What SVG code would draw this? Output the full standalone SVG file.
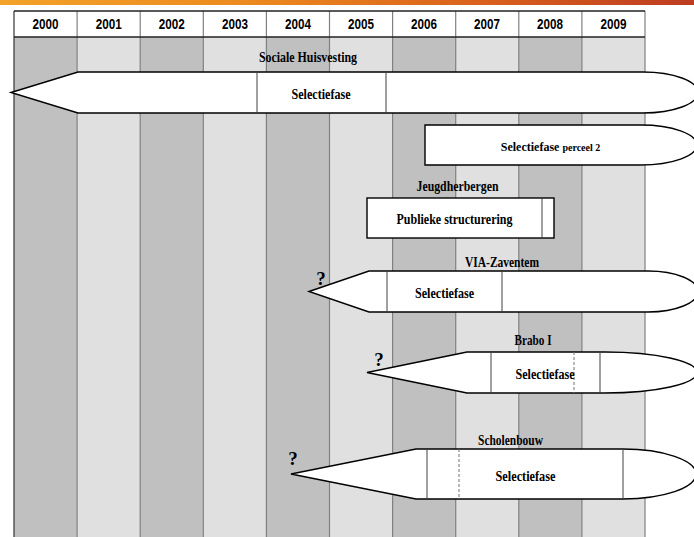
<svg xmlns="http://www.w3.org/2000/svg" width="694" height="537" viewBox="0 0 694 537">
<defs>
<linearGradient id="banner" x1="0" y1="0" x2="1" y2="0">
<stop offset="0" stop-color="#f3a22a"/>
<stop offset="0.35" stop-color="#ec8a1f"/>
<stop offset="0.7" stop-color="#d9601c"/>
<stop offset="1" stop-color="#bd3c22"/>
</linearGradient>
<style>
.dk{fill:#c0c0c0}
.lt{fill:#e0e0e0}
.col{stroke:#808080;stroke-width:1.2}
.yr{font-family:"Liberation Sans Narrow","Liberation Sans",Arial,sans-serif;font-weight:bold;font-size:14.5px;fill:#000;text-anchor:middle}
.lb{font-family:"Liberation Serif","Times New Roman",serif;font-weight:bold;font-size:15.5px;fill:#000;text-anchor:middle}
.q{font-family:"Liberation Serif","Times New Roman",serif;font-weight:bold;font-size:19px;fill:#000;text-anchor:middle}
.shape{fill:#fff;stroke:#000;stroke-width:1.4;stroke-linejoin:miter}
.div{stroke:#404040;stroke-width:1}
.dash{stroke:#707070;stroke-width:1;stroke-dasharray:3,2}
</style>
</defs>
<rect x="0" y="0" width="694" height="537" fill="#fff"/>
<rect x="0" y="0" width="694" height="5" fill="url(#banner)"/>
<g id="timeline">
<rect class="dk" x="14" y="37" width="63.1" height="500"/>
<rect class="lt" x="77.1" y="37" width="63.1" height="500"/>
<rect class="dk" x="140.2" y="37" width="63.1" height="500"/>
<rect class="lt" x="203.3" y="37" width="63.1" height="500"/>
<rect class="dk" x="266.4" y="37" width="63.1" height="500"/>
<rect class="lt" x="329.5" y="37" width="63.1" height="500"/>
<rect class="dk" x="392.6" y="37" width="63.1" height="500"/>
<rect class="lt" x="455.7" y="37" width="63.1" height="500"/>
<rect class="dk" x="518.8" y="37" width="63.1" height="500"/>
<rect class="lt" x="581.9" y="37" width="63.1" height="500"/>
<rect x="14" y="11" width="631" height="26" fill="#fff"/>
<line class="col" x1="14" y1="11" x2="14" y2="537" style="stroke:#333"/>
<line class="col" x1="77.1" y1="11" x2="77.1" y2="537"/>
<line class="col" x1="140.2" y1="11" x2="140.2" y2="537"/>
<line class="col" x1="203.3" y1="11" x2="203.3" y2="537"/>
<line class="col" x1="266.4" y1="11" x2="266.4" y2="537"/>
<line class="col" x1="329.5" y1="11" x2="329.5" y2="537"/>
<line class="col" x1="392.6" y1="11" x2="392.6" y2="537"/>
<line class="col" x1="455.7" y1="11" x2="455.7" y2="537"/>
<line class="col" x1="518.8" y1="11" x2="518.8" y2="537"/>
<line class="col" x1="581.9" y1="11" x2="581.9" y2="537"/>
<line class="col" x1="645" y1="11" x2="645" y2="537"/>
<line x1="14" y1="11" x2="645" y2="11" stroke="#222" stroke-width="1.4"/>
<line x1="14" y1="37" x2="645" y2="37" stroke="#222" stroke-width="1.4"/>
<text class="yr" x="45.6" y="29" textLength="26" lengthAdjust="spacingAndGlyphs">2000</text>
<text class="yr" x="108.7" y="29" textLength="26" lengthAdjust="spacingAndGlyphs">2001</text>
<text class="yr" x="171.8" y="29" textLength="26" lengthAdjust="spacingAndGlyphs">2002</text>
<text class="yr" x="234.9" y="29" textLength="26" lengthAdjust="spacingAndGlyphs">2003</text>
<text class="yr" x="298" y="29" textLength="26" lengthAdjust="spacingAndGlyphs">2004</text>
<text class="yr" x="361" y="29" textLength="26" lengthAdjust="spacingAndGlyphs">2005</text>
<text class="yr" x="424" y="29" textLength="26" lengthAdjust="spacingAndGlyphs">2006</text>
<text class="yr" x="487" y="29" textLength="26" lengthAdjust="spacingAndGlyphs">2007</text>
<text class="yr" x="550" y="29" textLength="26" lengthAdjust="spacingAndGlyphs">2008</text>
<text class="yr" x="613.5" y="29" textLength="26" lengthAdjust="spacingAndGlyphs">2009</text>
</g>
<g id="connectors"></g>
<g id="sociale-huisvesting">
<text class="lb" x="308" y="62" textLength="98" lengthAdjust="spacingAndGlyphs">Sociale Huisvesting</text>
<path class="shape" d="M11,92.5 L78,72 L643,72 A55,20.5 0 0 1 643,113 L78,113 Z"/>
<line class="div" x1="257" y1="72" x2="257" y2="113"/>
<line class="div" x1="386" y1="72" x2="386" y2="113"/>
<text class="lb" x="321" y="99" textLength="59" lengthAdjust="spacingAndGlyphs">Selectiefase</text>
</g>
<g id="selectiefase-perceel-2">
<path class="shape" d="M425,125 L641,125 A56,20 0 0 1 641,165 L425,165 Z"/>
<text class="lb" x="550.5" y="151" style="font-size:12px">Selectiefase <tspan style="font-size:10px">perceel 2</tspan></text>
</g>
<g id="jeugdherbergen">
<text class="lb" x="457.5" y="191" textLength="82" lengthAdjust="spacingAndGlyphs">Jeugdherbergen</text>
<rect class="shape" x="367" y="198" width="187" height="40"/>
<line class="div" x1="542" y1="198" x2="542" y2="238"/>
<text class="lb" x="454.5" y="224" textLength="116" lengthAdjust="spacingAndGlyphs">Publieke structurering</text>
</g>
<g id="via-zaventem">
<text class="lb" x="502" y="267" textLength="74" lengthAdjust="spacingAndGlyphs">VIA-Zaventem</text>
<text class="q" x="321" y="285">?</text>
<path class="shape" d="M309,291.5 L369,271 L648,271 A50,20.5 0 0 1 648,312 L369,312 Z"/>
<line class="div" x1="387" y1="271" x2="387" y2="312"/>
<line class="div" x1="502" y1="271" x2="502" y2="312"/>
<text class="lb" x="444.5" y="298" textLength="59" lengthAdjust="spacingAndGlyphs">Selectiefase</text>
</g>
<g id="brabo-i">
<text class="lb" x="533" y="345" textLength="37" lengthAdjust="spacingAndGlyphs">Brabo I</text>
<text class="q" x="379" y="366">?</text>
<path class="shape" d="M367,372.5 L467,352 L605,352 A92,20.5 0 0 1 605,393 L467,393 Z"/>
<line class="div" x1="491" y1="352" x2="491" y2="393"/>
<line class="dash" x1="574" y1="352" x2="574" y2="393"/>
<line class="div" x1="600" y1="352" x2="600" y2="393"/>
<text class="lb" x="545" y="379" textLength="59" lengthAdjust="spacingAndGlyphs">Selectiefase</text>
</g>
<g id="scholenbouw">
<text class="lb" x="510.5" y="445" textLength="65" lengthAdjust="spacingAndGlyphs">Scholenbouw</text>
<text class="q" x="293" y="465">?</text>
<path class="shape" d="M291,474 L416,449 L623,449 A73,25 0 0 1 623,499 L416,499 Z"/>
<line class="div" x1="427" y1="449" x2="427" y2="499"/>
<line class="dash" x1="459" y1="449" x2="459" y2="499"/>
<line class="div" x1="623" y1="449" x2="623" y2="499"/>
<text class="lb" x="525.5" y="481" textLength="60" lengthAdjust="spacingAndGlyphs">Selectiefase</text>
</g>
</svg>
